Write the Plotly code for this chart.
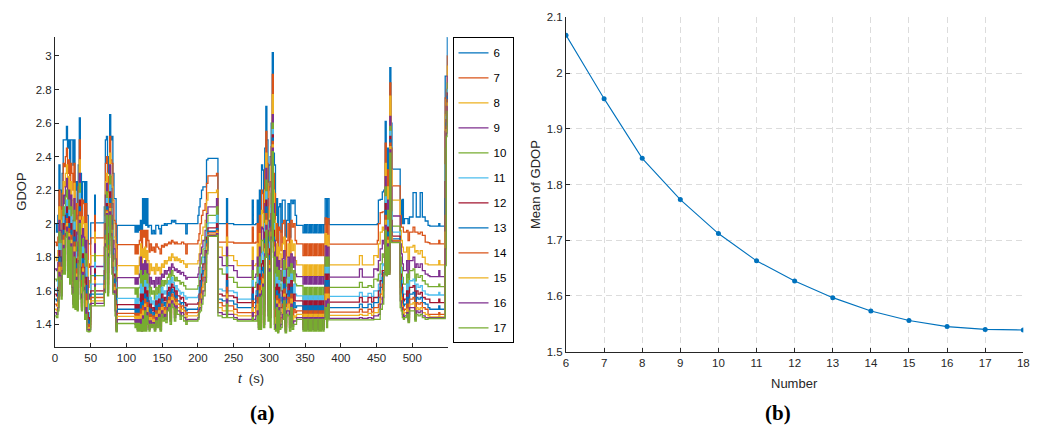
import plotly.graph_objects as go

W, H = 1043, 428

# ---------------- data: panel (a) GDOP time series (step values) ----------------
t_s = [
    0, 2, 4, 5.5, 7, 8.5, 10, 11.5, 13, 14.5,
    16, 17.5, 19, 20.5, 22, 23.5, 25, 26.5, 28, 29.5,
    31, 32.5, 34, 35.5, 37, 38.5, 40, 41.5, 43, 44.5,
    46.5, 48.5, 50, 55.5, 56.5, 69, 70.5, 72, 73.5, 75,
    76.5, 78, 79.5, 81, 82.5, 84, 85.5, 87, 112, 113.5,
    115, 116.5, 118, 119.5, 121, 122.5, 124, 125.5, 127, 128.5,
    130, 131.5, 133, 135, 137, 139, 141, 143, 145, 147,
    149, 151, 153, 155, 157, 159, 161, 163, 165, 167,
    169, 171, 173, 175, 177, 180, 183, 185, 200, 201.5,
    203, 205, 207, 210, 212, 214, 226, 228, 234, 240,
    241.5, 250, 255, 276, 277.5, 281, 283, 284.5, 286, 287.5,
    289, 290.5, 292, 293.5, 295, 296.5, 298, 299.5, 301, 302.5,
    304, 305.5, 307, 308.5, 310, 311.5, 313, 314.5, 316, 318,
    320, 322, 324, 326, 328, 330, 332, 334, 336, 338,
    347, 349, 350.5, 352, 354, 356, 357.5, 359, 361, 363,
    364.5, 366, 368, 370, 371.5, 373, 375, 376.5, 378, 380,
    381.5, 383.5, 426, 430, 438, 443, 446, 451, 452.5, 455,
    458, 460, 462, 463.5, 465, 466.5, 468.5, 470, 471.5, 483,
    484.5, 486, 487.5, 489, 492, 494, 496, 501, 503.5, 505.5,
    508, 511, 514, 518, 522, 524.5, 537, 538.5, 546, 547.5,
    549, 549.5,
]

gdop_6 = [
    2.00, 1.95, 2.05, 2.35, 2.20, 2.00, 2.30, 2.50, 2.50, 2.50,
    2.58, 2.45, 2.50, 2.30, 2.50, 2.50, 2.35, 2.50, 2.20, 2.25,
    2.00, 2.35, 2.63, 2.30, 2.00, 2.25, 2.25, 1.88, 2.25, 2.05,
    1.88, 1.88, 2.005, 2.17, 2.005, 2.10, 2.50, 2.52, 2.30, 2.40,
    2.65, 2.50, 2.52, 2.30, 2.15, 2.15, 1.85, 1.99, 1.95, 1.99,
    1.95, 1.99, 1.96, 2.02, 1.95, 2.15, 2.00, 2.15, 1.99, 2.15,
    1.98, 1.99, 1.99, 1.94, 1.96, 1.94, 1.99, 1.99, 1.97, 1.94,
    1.99, 1.99, 2.00, 1.99, 2.00, 2.00, 2.00, 2.02, 2.01, 2.02,
    2.00, 2.00, 2.00, 2.00, 2.00, 2.00, 1.94, 2.00, 2.05, 2.10,
    2.15, 2.20, 2.22, 2.22, 2.38, 2.39, 2.39, 2.00, 2.00, 2.15,
    2.00, 1.995, 1.995, 2.14, 1.995, 2.00, 2.14, 1.98, 2.20, 1.95,
    2.35, 2.32, 2.00, 2.45, 2.70, 2.50, 2.20, 2.35, 2.40, 2.60,
    3.02, 2.42, 2.35, 2.05, 2.15, 1.85, 2.10, 2.12, 1.95, 2.14,
    2.14, 1.92, 2.02, 2.12, 1.92, 2.14, 2.12, 2.14, 2.05, 1.99,
    1.945, 1.995, 1.945, 1.995, 1.945, 1.995, 1.945, 1.995, 1.945, 1.995,
    1.945, 1.995, 1.945, 1.995, 1.945, 1.995, 1.945, 1.995, 2.15, 2.00,
    2.15, 1.995, 1.995, 1.995, 1.995, 1.995, 1.995, 2.00, 2.14, 2.145,
    2.19, 2.20, 2.61, 2.20, 2.45, 2.20, 2.93, 2.60, 2.325, 2.14,
    2.00, 2.145, 2.00, 2.03, 2.03, 2.00, 2.04, 2.185, 2.185, 2.04,
    2.04, 2.185, 2.04, 2.016, 1.99, 1.985, 2.00, 1.985, 2.88, 2.88,
    3.11, 3.11,
]

gdop_7 = [
    1.89, 1.87, 1.92, 2.20, 2.10, 1.93, 2.18, 2.36, 2.34, 2.40,
    2.45, 2.30, 2.38, 2.15, 2.36, 2.30, 2.20, 2.36, 2.02, 2.12,
    1.88, 2.22, 2.50, 2.15, 1.88, 2.14, 2.12, 1.76, 2.12, 1.90,
    1.74, 1.76, 1.915, 2.05, 1.915, 2.00, 2.36, 2.40, 2.15, 2.28,
    2.52, 2.38, 2.36, 2.14, 2.02, 2.00, 1.72, 1.875, 1.82, 1.875,
    1.82, 1.875, 1.90, 1.96, 1.83, 1.96, 1.92, 1.96, 1.86, 1.96,
    1.90, 1.83, 1.88, 1.84, 1.86, 1.83, 1.88, 1.86, 1.85, 1.82,
    1.87, 1.86, 1.88, 1.87, 1.88, 1.89, 1.88, 1.90, 1.89, 1.88,
    1.89, 1.88, 1.88, 1.88, 1.89, 1.88, 1.82, 1.88, 1.90, 1.94,
    2.00, 2.05, 2.08, 2.12, 2.24, 2.285, 2.30, 1.89, 1.89, 2.00,
    1.89, 1.885, 1.885, 1.98, 1.885, 1.89, 2.00, 1.85, 2.05, 1.82,
    2.20, 2.18, 1.88, 2.32, 2.55, 2.36, 2.04, 2.22, 2.25, 2.46,
    2.89, 2.30, 2.18, 1.90, 2.00, 1.74, 1.98, 1.96, 1.84, 2.00,
    2.02, 1.80, 1.90, 2.00, 1.82, 2.02, 1.98, 2.00, 1.90, 1.88,
    1.81, 1.88, 1.81, 1.88, 1.81, 1.88, 1.81, 1.88, 1.81, 1.88,
    1.81, 1.88, 1.81, 1.88, 1.81, 1.88, 1.81, 1.88, 2.035, 1.90,
    2.03, 1.878, 1.878, 1.878, 1.878, 1.878, 1.878, 1.90, 2.00, 2.066,
    2.07, 2.07, 2.48, 2.05, 2.32, 2.06, 2.84, 2.45, 2.225, 2.05,
    1.98, 1.98, 1.95, 1.95, 1.96, 1.90, 1.95, 1.98, 1.95, 1.95,
    1.94, 1.95, 1.93, 1.89, 1.887, 1.88, 1.90, 1.88, 2.75, 2.80,
    3.00, 3.00,
]

gdop_8 = [
    1.80, 1.78, 1.84, 2.10, 2.02, 1.86, 2.08, 2.25, 2.22, 2.30,
    2.35, 2.18, 2.28, 2.02, 2.25, 2.14, 2.06, 2.24, 1.88, 2.02,
    1.78, 2.12, 2.38, 2.02, 1.78, 2.04, 2.00, 1.66, 2.00, 1.78,
    1.62, 1.66, 1.81, 1.95, 1.81, 1.92, 2.25, 2.30, 2.02, 2.18,
    2.42, 2.28, 2.22, 2.00, 1.92, 1.88, 1.60, 1.75, 1.70, 1.75,
    1.70, 1.75, 1.80, 1.88, 1.72, 1.85, 1.80, 1.86, 1.74, 1.84,
    1.78, 1.70, 1.76, 1.72, 1.74, 1.70, 1.76, 1.72, 1.74, 1.70,
    1.76, 1.74, 1.78, 1.76, 1.78, 1.80, 1.78, 1.82, 1.80, 1.78,
    1.80, 1.78, 1.79, 1.77, 1.78, 1.76, 1.74, 1.76, 1.78, 1.82,
    1.88, 1.93, 1.98, 2.02, 2.14, 2.185, 2.20, 1.86, 1.81, 1.92,
    1.81, 1.78, 1.75, 1.86, 1.75, 1.76, 1.88, 1.72, 1.94, 1.70,
    2.08, 2.06, 1.76, 2.20, 2.42, 2.24, 1.90, 2.10, 2.10, 2.34,
    2.77, 2.20, 2.02, 1.76, 1.88, 1.62, 1.86, 1.82, 1.74, 1.88,
    1.92, 1.68, 1.80, 1.88, 1.72, 1.90, 1.84, 1.88, 1.78, 1.755,
    1.69, 1.755, 1.69, 1.755, 1.69, 1.755, 1.69, 1.755, 1.69, 1.755,
    1.69, 1.755, 1.69, 1.755, 1.69, 1.755, 1.69, 1.755, 1.94, 1.80,
    1.93, 1.755, 1.81, 1.755, 1.755, 1.755, 1.81, 1.80, 1.88, 1.95,
    1.98, 1.96, 2.36, 1.92, 2.22, 1.94, 2.76, 2.32, 2.14, 1.96,
    1.90, 1.86, 1.83, 1.83, 1.86, 1.78, 1.86, 1.87, 1.83, 1.84,
    1.82, 1.84, 1.80, 1.76, 1.755, 1.755, 1.78, 1.755, 2.65, 2.74,
    2.94, 2.94,
]

gdop_9 = [
    1.73, 1.72, 1.77, 2.02, 1.96, 1.80, 2.00, 2.17, 2.12, 2.22,
    2.27, 2.08, 2.20, 1.93, 2.17, 2.02, 1.94, 2.15, 1.78, 1.95,
    1.71, 2.05, 2.30, 1.93, 1.70, 1.97, 1.92, 1.60, 1.90, 1.68,
    1.55, 1.58, 1.745, 1.88, 1.745, 1.86, 2.17, 2.24, 1.92, 2.10,
    2.35, 2.21, 2.12, 1.90, 1.85, 1.79, 1.52, 1.678, 1.64, 1.678,
    1.64, 1.678, 1.70, 1.80, 1.62, 1.76, 1.70, 1.78, 1.64, 1.76,
    1.70, 1.62, 1.68, 1.64, 1.66, 1.62, 1.68, 1.64, 1.68, 1.62,
    1.70, 1.68, 1.72, 1.70, 1.72, 1.74, 1.70, 1.76, 1.74, 1.72,
    1.73, 1.71, 1.72, 1.70, 1.71, 1.69, 1.67, 1.68, 1.70, 1.74,
    1.82, 1.86, 1.90, 1.96, 2.06, 2.10, 2.15, 1.80, 1.75, 1.86,
    1.75, 1.72, 1.68, 1.78, 1.68, 1.70, 1.80, 1.64, 1.86, 1.62,
    1.98, 1.97, 1.68, 2.12, 2.33, 2.15, 1.80, 2.02, 1.98, 2.25,
    2.65, 2.12, 1.90, 1.66, 1.80, 1.54, 1.78, 1.72, 1.66, 1.79,
    1.84, 1.60, 1.73, 1.80, 1.65, 1.82, 1.74, 1.80, 1.70, 1.685,
    1.64, 1.685, 1.64, 1.685, 1.64, 1.685, 1.64, 1.685, 1.64, 1.685,
    1.64, 1.685, 1.64, 1.685, 1.64, 1.685, 1.64, 1.685, 1.867, 1.74,
    1.86, 1.682, 1.73, 1.682, 1.682, 1.682, 1.73, 1.72, 1.78, 1.85,
    1.90, 1.88, 2.28, 1.84, 2.14, 1.86, 2.64, 2.22, 2.046, 1.88,
    1.82, 1.76, 1.72, 1.72, 1.78, 1.68, 1.78, 1.80, 1.74, 1.76,
    1.74, 1.76, 1.72, 1.70, 1.69, 1.685, 1.72, 1.685, 2.55, 2.70,
    2.88, 2.88,
]

gdop_10 = [
    1.67, 1.66, 1.72, 1.95, 1.90, 1.75, 1.94, 2.10, 2.04, 2.16,
    2.20, 2.00, 2.14, 1.86, 2.10, 1.93, 1.84, 2.08, 1.70, 1.89,
    1.65, 1.99, 2.24, 1.86, 1.64, 1.91, 1.85, 1.56, 1.82, 1.60,
    1.49, 1.52, 1.69, 1.82, 1.69, 1.81, 2.10, 2.19, 1.84, 2.04,
    2.29, 2.15, 2.04, 1.82, 1.79, 1.72, 1.46, 1.617, 1.58, 1.617,
    1.56, 1.617, 1.62, 1.72, 1.54, 1.69, 1.62, 1.72, 1.56, 1.70,
    1.64, 1.55, 1.62, 1.58, 1.60, 1.55, 1.62, 1.58, 1.63, 1.56,
    1.66, 1.63, 1.66, 1.64, 1.68, 1.70, 1.64, 1.72, 1.69, 1.66,
    1.68, 1.66, 1.66, 1.64, 1.65, 1.63, 1.61, 1.61, 1.63, 1.68,
    1.76, 1.80, 1.85, 1.92, 2.00, 2.05, 2.10, 1.73, 1.70, 1.80,
    1.68, 1.65, 1.62, 1.72, 1.62, 1.65, 1.74, 1.58, 1.80, 1.56,
    1.90, 1.90, 1.62, 2.06, 2.26, 2.08, 1.72, 1.95, 1.88, 2.18,
    2.60, 2.06, 1.80, 1.58, 1.74, 1.48, 1.72, 1.64, 1.60, 1.72,
    1.78, 1.54, 1.67, 1.74, 1.60, 1.76, 1.66, 1.72, 1.64, 1.63,
    1.55, 1.62, 1.55, 1.62, 1.55, 1.62, 1.55, 1.62, 1.55, 1.62,
    1.55, 1.62, 1.55, 1.62, 1.55, 1.62, 1.55, 1.62, 1.80, 1.68,
    1.80, 1.62, 1.65, 1.62, 1.63, 1.62, 1.67, 1.66, 1.70, 1.76,
    1.82, 1.80, 2.22, 1.78, 2.08, 1.80, 2.58, 2.14, 1.986, 1.80,
    1.74, 1.68, 1.64, 1.64, 1.70, 1.60, 1.72, 1.73, 1.66, 1.70,
    1.68, 1.69, 1.66, 1.64, 1.625, 1.625, 1.64, 1.625, 2.45, 2.67,
    2.84, 2.84,
]

gdop_11 = [
    1.61, 1.60, 1.66, 1.88, 1.84, 1.70, 1.88, 2.04, 1.96, 2.10,
    2.14, 1.92, 2.08, 1.80, 2.04, 1.84, 1.74, 2.01, 1.63, 1.83,
    1.60, 1.93, 2.18, 1.79, 1.59, 1.86, 1.78, 1.52, 1.74, 1.52,
    1.44, 1.47, 1.64, 1.77, 1.64, 1.76, 2.04, 2.15, 1.76, 1.98,
    2.23, 2.09, 1.96, 1.74, 1.74, 1.65, 1.41, 1.555, 1.52, 1.555,
    1.50, 1.555, 1.54, 1.64, 1.46, 1.62, 1.54, 1.66, 1.49, 1.64,
    1.58, 1.48, 1.56, 1.52, 1.54, 1.49, 1.57, 1.52, 1.58, 1.50,
    1.62, 1.58, 1.60, 1.58, 1.64, 1.66, 1.58, 1.68, 1.65, 1.60,
    1.63, 1.61, 1.60, 1.58, 1.59, 1.57, 1.55, 1.56, 1.57, 1.62,
    1.70, 1.74, 1.80, 1.88, 1.95, 2.005, 2.05, 1.61, 1.60, 1.74,
    1.60, 1.59, 1.55, 1.66, 1.55, 1.60, 1.68, 1.52, 1.74, 1.50,
    1.82, 1.83, 1.56, 2.00, 2.19, 2.01, 1.64, 1.89, 1.78, 2.11,
    2.56, 2.00, 1.70, 1.50, 1.68, 1.43, 1.66, 1.56, 1.54, 1.65,
    1.72, 1.48, 1.62, 1.68, 1.54, 1.70, 1.58, 1.64, 1.58, 1.57,
    1.50, 1.57, 1.50, 1.57, 1.50, 1.57, 1.50, 1.57, 1.50, 1.57,
    1.50, 1.57, 1.50, 1.57, 1.50, 1.57, 1.50, 1.57, 1.74, 1.62,
    1.74, 1.567, 1.59, 1.567, 1.585, 1.567, 1.60, 1.60, 1.64, 1.70,
    1.76, 1.75, 2.16, 1.74, 2.02, 1.76, 2.55, 2.07, 1.95, 1.74,
    1.68, 1.62, 1.58, 1.58, 1.64, 1.53, 1.66, 1.67, 1.58, 1.64,
    1.62, 1.63, 1.60, 1.58, 1.575, 1.575, 1.59, 1.575, 2.35, 2.64,
    2.80, 2.80,
]

gdop_12 = [
    1.58, 1.57, 1.62, 1.84, 1.80, 1.66, 1.84, 2.00, 1.90, 2.05,
    2.10, 1.86, 2.04, 1.76, 2.00, 1.78, 1.67, 1.96, 1.58, 1.79,
    1.56, 1.89, 2.14, 1.74, 1.56, 1.82, 1.74, 1.49, 1.68, 1.47,
    1.41, 1.44, 1.60, 1.73, 1.60, 1.72, 2.00, 2.12, 1.71, 1.94,
    2.19, 2.05, 1.90, 1.69, 1.70, 1.61, 1.39, 1.518, 1.49, 1.518,
    1.46, 1.518, 1.48, 1.58, 1.42, 1.58, 1.49, 1.62, 1.45, 1.60,
    1.54, 1.44, 1.52, 1.48, 1.50, 1.45, 1.54, 1.48, 1.55, 1.46,
    1.58, 1.54, 1.56, 1.54, 1.60, 1.62, 1.54, 1.64, 1.62, 1.56,
    1.60, 1.57, 1.57, 1.55, 1.56, 1.53, 1.51, 1.52, 1.53, 1.58,
    1.66, 1.70, 1.76, 1.84, 1.92, 1.975, 2.00, 1.58, 1.57, 1.70,
    1.57, 1.56, 1.53, 1.62, 1.53, 1.57, 1.64, 1.48, 1.70, 1.46,
    1.76, 1.78, 1.52, 1.95, 2.14, 1.96, 1.59, 1.85, 1.70, 2.06,
    2.53, 1.96, 1.62, 1.45, 1.64, 1.40, 1.62, 1.50, 1.50, 1.60,
    1.68, 1.44, 1.58, 1.64, 1.50, 1.66, 1.53, 1.58, 1.54, 1.54,
    1.46, 1.54, 1.46, 1.54, 1.46, 1.54, 1.46, 1.54, 1.46, 1.54,
    1.46, 1.54, 1.46, 1.54, 1.46, 1.54, 1.46, 1.54, 1.70, 1.58,
    1.70, 1.532, 1.56, 1.532, 1.56, 1.532, 1.56, 1.56, 1.60, 1.66,
    1.72, 1.72, 2.12, 1.72, 1.98, 1.73, 2.52, 2.02, 1.926, 1.70,
    1.64, 1.58, 1.54, 1.55, 1.60, 1.49, 1.62, 1.63, 1.53, 1.60,
    1.58, 1.59, 1.56, 1.55, 1.55, 1.53, 1.55, 1.53, 2.25, 2.62,
    2.78, 2.78,
]

gdop_13 = [
    1.55, 1.54, 1.59, 1.80, 1.77, 1.63, 1.80, 1.96, 1.85, 2.02,
    2.06, 1.82, 2.00, 1.73, 1.96, 1.73, 1.61, 1.92, 1.55, 1.76,
    1.54, 1.86, 2.10, 1.70, 1.53, 1.79, 1.70, 1.47, 1.63, 1.43,
    1.39, 1.42, 1.58, 1.70, 1.58, 1.69, 1.96, 2.10, 1.67, 1.90,
    2.15, 2.02, 1.85, 1.65, 1.67, 1.57, 1.38, 1.49, 1.46, 1.49,
    1.43, 1.49, 1.44, 1.53, 1.39, 1.54, 1.45, 1.58, 1.42, 1.56,
    1.50, 1.41, 1.49, 1.45, 1.47, 1.42, 1.51, 1.45, 1.52, 1.43,
    1.55, 1.51, 1.53, 1.50, 1.57, 1.59, 1.50, 1.61, 1.59, 1.52,
    1.57, 1.54, 1.54, 1.52, 1.53, 1.50, 1.48, 1.49, 1.50, 1.55,
    1.62, 1.66, 1.72, 1.80, 1.90, 1.955, 1.97, 1.55, 1.54, 1.66,
    1.54, 1.52, 1.50, 1.58, 1.50, 1.54, 1.60, 1.45, 1.66, 1.43,
    1.72, 1.74, 1.48, 1.91, 2.10, 1.92, 1.55, 1.81, 1.63, 2.02,
    2.51, 1.92, 1.55, 1.41, 1.60, 1.38, 1.58, 1.46, 1.47, 1.56,
    1.64, 1.41, 1.55, 1.60, 1.46, 1.62, 1.49, 1.53, 1.50, 1.51,
    1.43, 1.51, 1.43, 1.51, 1.43, 1.51, 1.43, 1.51, 1.43, 1.51,
    1.43, 1.51, 1.43, 1.51, 1.43, 1.51, 1.43, 1.51, 1.66, 1.54,
    1.66, 1.50, 1.52, 1.50, 1.52, 1.50, 1.53, 1.53, 1.56, 1.62,
    1.68, 1.71, 2.08, 1.71, 1.95, 1.72, 2.50, 1.98, 1.91, 1.66,
    1.60, 1.54, 1.51, 1.52, 1.56, 1.46, 1.58, 1.59, 1.49, 1.56,
    1.55, 1.56, 1.53, 1.52, 1.50, 1.49, 1.51, 1.49, 2.15, 2.60,
    2.76, 2.76,
]

gdop_14 = [
    1.52, 1.51, 1.56, 1.77, 1.74, 1.61, 1.77, 1.93, 1.81, 1.99,
    2.03, 1.78, 1.97, 1.70, 1.93, 1.69, 1.57, 1.89, 1.53, 1.73,
    1.52, 1.83, 2.07, 1.66, 1.51, 1.76, 1.67, 1.46, 1.58, 1.40,
    1.38, 1.40, 1.56, 1.68, 1.56, 1.66, 1.93, 2.08, 1.64, 1.87,
    2.12, 1.99, 1.81, 1.62, 1.64, 1.54, 1.37, 1.466, 1.44, 1.466,
    1.41, 1.466, 1.41, 1.49, 1.38, 1.51, 1.42, 1.55, 1.40, 1.53,
    1.47, 1.39, 1.46, 1.43, 1.45, 1.40, 1.48, 1.43, 1.50, 1.41,
    1.52, 1.48, 1.50, 1.47, 1.54, 1.56, 1.47, 1.58, 1.56, 1.49,
    1.55, 1.52, 1.52, 1.49, 1.51, 1.48, 1.46, 1.47, 1.48, 1.53,
    1.58, 1.62, 1.68, 1.76, 1.88, 1.945, 1.96, 1.53, 1.51, 1.62,
    1.51, 1.49, 1.47, 1.54, 1.47, 1.51, 1.56, 1.42, 1.63, 1.41,
    1.68, 1.70, 1.45, 1.88, 2.06, 1.88, 1.51, 1.78, 1.57, 1.98,
    2.49, 1.89, 1.49, 1.39, 1.57, 1.37, 1.55, 1.42, 1.44, 1.52,
    1.61, 1.39, 1.52, 1.56, 1.43, 1.58, 1.45, 1.49, 1.47, 1.48,
    1.40, 1.48, 1.40, 1.48, 1.40, 1.48, 1.40, 1.48, 1.40, 1.48,
    1.40, 1.48, 1.40, 1.48, 1.40, 1.48, 1.40, 1.48, 1.62, 1.50,
    1.62, 1.473, 1.49, 1.473, 1.49, 1.473, 1.50, 1.50, 1.52, 1.58,
    1.64, 1.70, 2.05, 1.70, 1.92, 1.71, 2.48, 1.95, 1.90, 1.62,
    1.56, 1.51, 1.48, 1.49, 1.52, 1.44, 1.55, 1.56, 1.46, 1.53,
    1.52, 1.53, 1.50, 1.49, 1.46, 1.46, 1.47, 1.46, 2.05, 2.58,
    2.74, 2.74,
]

gdop_15 = [
    1.49, 1.48, 1.53, 1.74, 1.71, 1.59, 1.74, 1.90, 1.77, 1.96,
    2.00, 1.75, 1.94, 1.68, 1.90, 1.65, 1.54, 1.86, 1.51, 1.70,
    1.50, 1.80, 2.04, 1.62, 1.50, 1.73, 1.64, 1.45, 1.54, 1.38,
    1.37, 1.38, 1.54, 1.66, 1.54, 1.63, 1.90, 2.07, 1.61, 1.84,
    2.09, 1.96, 1.77, 1.60, 1.62, 1.51, 1.365, 1.447, 1.42, 1.447,
    1.39, 1.447, 1.39, 1.46, 1.37, 1.48, 1.40, 1.52, 1.38, 1.50,
    1.44, 1.38, 1.44, 1.41, 1.43, 1.38, 1.46, 1.41, 1.48, 1.39,
    1.50, 1.46, 1.48, 1.45, 1.52, 1.54, 1.44, 1.56, 1.54, 1.46,
    1.53, 1.50, 1.50, 1.47, 1.49, 1.46, 1.44, 1.45, 1.46, 1.51,
    1.54, 1.58, 1.64, 1.72, 1.86, 1.935, 1.95, 1.50, 1.48, 1.58,
    1.48, 1.46, 1.45, 1.50, 1.45, 1.48, 1.52, 1.40, 1.60, 1.39,
    1.64, 1.67, 1.42, 1.85, 2.02, 1.85, 1.48, 1.75, 1.50, 1.95,
    2.47, 1.86, 1.44, 1.38, 1.54, 1.36, 1.52, 1.40, 1.42, 1.49,
    1.58, 1.37, 1.50, 1.52, 1.40, 1.55, 1.42, 1.45, 1.44, 1.46,
    1.38, 1.46, 1.38, 1.46, 1.38, 1.46, 1.38, 1.46, 1.38, 1.46,
    1.38, 1.46, 1.38, 1.46, 1.38, 1.46, 1.38, 1.46, 1.58, 1.46,
    1.58, 1.453, 1.46, 1.453, 1.465, 1.453, 1.47, 1.47, 1.49, 1.55,
    1.60, 1.70, 2.02, 1.70, 1.90, 1.70, 2.46, 1.92, 1.895, 1.58,
    1.52, 1.48, 1.46, 1.47, 1.49, 1.43, 1.52, 1.53, 1.44, 1.50,
    1.49, 1.50, 1.47, 1.46, 1.45, 1.445, 1.45, 1.445, 1.95, 2.56,
    2.72, 2.72,
]

gdop_16 = [
    1.47, 1.46, 1.50, 1.71, 1.69, 1.57, 1.72, 1.87, 1.74, 1.94,
    1.98, 1.72, 1.92, 1.66, 1.88, 1.62, 1.52, 1.83, 1.50, 1.68,
    1.49, 1.78, 2.02, 1.58, 1.49, 1.71, 1.62, 1.44, 1.50, 1.37,
    1.36, 1.37, 1.525, 1.64, 1.525, 1.61, 1.88, 2.06, 1.59, 1.82,
    2.07, 1.94, 1.74, 1.59, 1.60, 1.48, 1.36, 1.428, 1.40, 1.428,
    1.37, 1.428, 1.37, 1.43, 1.36, 1.45, 1.38, 1.50, 1.37, 1.47,
    1.42, 1.37, 1.42, 1.39, 1.41, 1.37, 1.44, 1.39, 1.46, 1.37,
    1.48, 1.44, 1.46, 1.43, 1.50, 1.52, 1.42, 1.54, 1.52, 1.44,
    1.51, 1.48, 1.48, 1.45, 1.47, 1.44, 1.42, 1.43, 1.44, 1.49,
    1.50, 1.55, 1.60, 1.68, 1.84, 1.93, 1.94, 1.47, 1.46, 1.55,
    1.46, 1.44, 1.43, 1.47, 1.43, 1.45, 1.48, 1.38, 1.58, 1.38,
    1.60, 1.64, 1.40, 1.82, 1.99, 1.82, 1.45, 1.73, 1.44, 1.92,
    2.45, 1.83, 1.40, 1.37, 1.52, 1.355, 1.50, 1.38, 1.40, 1.46,
    1.56, 1.36, 1.48, 1.48, 1.38, 1.52, 1.39, 1.42, 1.42, 1.44,
    1.37, 1.44, 1.37, 1.44, 1.37, 1.44, 1.37, 1.44, 1.37, 1.44,
    1.37, 1.44, 1.37, 1.44, 1.37, 1.44, 1.37, 1.44, 1.54, 1.42,
    1.55, 1.436, 1.44, 1.436, 1.44, 1.436, 1.45, 1.45, 1.46, 1.52,
    1.56, 1.70, 1.99, 1.69, 1.88, 1.70, 2.44, 1.90, 1.89, 1.54,
    1.50, 1.46, 1.44, 1.45, 1.47, 1.42, 1.50, 1.50, 1.43, 1.48,
    1.47, 1.48, 1.45, 1.44, 1.44, 1.44, 1.44, 1.44, 1.85, 2.54,
    2.70, 2.70,
]

gdop_17 = [
    1.45, 1.44, 1.48, 1.68, 1.66, 1.55, 1.70, 1.85, 1.70, 1.92,
    1.95, 1.68, 1.90, 1.64, 1.86, 1.58, 1.50, 1.80, 1.49, 1.66,
    1.48, 1.76, 2.00, 1.55, 1.48, 1.69, 1.60, 1.43, 1.46, 1.36,
    1.355, 1.36, 1.51, 1.62, 1.51, 1.59, 1.86, 2.05, 1.57, 1.80,
    2.05, 1.92, 1.70, 1.58, 1.58, 1.45, 1.355, 1.405, 1.38, 1.405,
    1.36, 1.405, 1.36, 1.40, 1.36, 1.43, 1.36, 1.48, 1.36, 1.45,
    1.40, 1.36, 1.40, 1.38, 1.40, 1.36, 1.42, 1.38, 1.44, 1.36,
    1.46, 1.42, 1.44, 1.41, 1.48, 1.50, 1.40, 1.52, 1.50, 1.42,
    1.49, 1.46, 1.46, 1.43, 1.45, 1.42, 1.40, 1.42, 1.43, 1.47,
    1.48, 1.52, 1.57, 1.65, 1.82, 1.925, 1.93, 1.45, 1.44, 1.52,
    1.44, 1.43, 1.42, 1.44, 1.42, 1.42, 1.45, 1.37, 1.56, 1.37,
    1.57, 1.62, 1.38, 1.80, 1.96, 1.80, 1.42, 1.71, 1.38, 1.90,
    2.43, 1.80, 1.37, 1.36, 1.50, 1.35, 1.48, 1.37, 1.38, 1.43,
    1.54, 1.35, 1.46, 1.45, 1.36, 1.50, 1.37, 1.40, 1.40, 1.43,
    1.36, 1.43, 1.36, 1.43, 1.36, 1.43, 1.36, 1.43, 1.36, 1.43,
    1.36, 1.43, 1.36, 1.43, 1.36, 1.43, 1.36, 1.43, 1.50, 1.38,
    1.52, 1.427, 1.427, 1.427, 1.427, 1.427, 1.43, 1.43, 1.43, 1.49,
    1.52, 1.70, 1.96, 1.69, 1.86, 1.70, 2.42, 1.89, 1.887, 1.50,
    1.48, 1.44, 1.43, 1.44, 1.46, 1.41, 1.48, 1.48, 1.42, 1.46,
    1.45, 1.46, 1.44, 1.43, 1.435, 1.435, 1.435, 1.435, 1.75, 2.52,
    2.67, 2.67,
]

series_names = ["6", "7", "8", "9", "10", "11", "12", "13", "14", "15", "16", "17"]
series_values = [gdop_6, gdop_7, gdop_8, gdop_9, gdop_10, gdop_11,
                 gdop_12, gdop_13, gdop_14, gdop_15, gdop_16, gdop_17]
series_colors = ["#0072BD", "#D95319", "#EDB120", "#7E2F8E", "#77AC30", "#4DBEEE",
                 "#A2142F", "#0072BD", "#D95319", "#EDB120", "#7E2F8E", "#77AC30"]

# ---------------- data: panel (b) mean GDOP vs number of satellites ----------------
numbers = [6, 7, 8, 9, 10, 11, 12, 13, 14, 15, 16, 17, 18]
mean_gdop = [2.068, 1.954, 1.847, 1.773, 1.712, 1.663, 1.627, 1.597, 1.573, 1.556, 1.545, 1.540, 1.539]

left_xticks = [0, 50, 100, 150, 200, 250, 300, 350, 400, 450, 500]
left_yticks = [1.4, 1.6, 1.8, 2.0, 2.2, 2.4, 2.6, 2.8, 3.0]
right_yticks = [1.5, 1.6, 1.7, 1.8, 1.9, 2.0, 2.1]

for name, vals in zip(series_names, series_values):
    if len(vals) != len(t_s):
        raise ValueError(f"series {name}: {len(vals)} values vs {len(t_s)} times")

# ---------------- figure ----------------
FONT = "Liberation Sans, Arial, sans-serif"
AX = "#262626"

def px_x(p):
    return p / W

def px_y(p):
    return 1 - p / H

fig = go.Figure()

for name, vals, col in zip(series_names, series_values, series_colors):
    fig.add_trace(go.Scatter(
        x=t_s, y=vals, mode="lines", name=name, legendgroup=name,
        line=dict(color=col, width=1.3, shape="hv"),
        xaxis="x", yaxis="y",
    ))

fig.add_trace(go.Scatter(
    x=numbers, y=mean_gdop, mode="lines+markers", showlegend=False,
    line=dict(color="#0072BD", width=1.1),
    marker=dict(color="#0072BD", size=5),
    xaxis="x2", yaxis="y2",
))

common_axis = dict(
    showline=True, linecolor=AX, linewidth=1, mirror=False,
    ticks="inside", ticklen=4, tickcolor=AX, tickwidth=1,
    tickfont=dict(family=FONT, size=11.5, color=AX),
    zeroline=False, automargin=False,
)

fig.update_layout(
    template="none",
    width=W, height=H,
    autosize=False,
    margin=dict(l=0, r=0, t=0, b=0, pad=0, autoexpand=False),
    paper_bgcolor="white", plot_bgcolor="white",
    font=dict(family=FONT, color=AX),
    xaxis=dict(domain=[px_x(55), px_x(447.7)], range=[0, 549.5],
               tickvals=left_xticks, showgrid=False, anchor="y", **common_axis),
    yaxis=dict(domain=[px_y(347), px_y(37)], range=[1.265, 3.113],
               tickvals=left_yticks, showgrid=False, anchor="x", **common_axis),
    xaxis2=dict(domain=[px_x(566), px_x(1023.3)], range=[6, 18],
                tickvals=numbers, showgrid=True, gridcolor="#dcdcdc", griddash="6px,4px",
                gridwidth=1, anchor="y2", **common_axis),
    yaxis2=dict(domain=[px_y(351.7), px_y(17.3)], range=[1.5, 2.1],
                tickvals=right_yticks, showgrid=True, gridcolor="#dcdcdc", griddash="6px,4px",
                gridwidth=1, anchor="x2", **common_axis),
    legend=dict(x=px_x(452.5), y=px_y(37.3), xanchor="left", yanchor="top",
                bordercolor="#000000", borderwidth=1, bgcolor="white",
                font=dict(family=FONT, size=11.5, color="#000000"),
                tracegroupgap=6, itemwidth=30),
    showlegend=True,
    hovermode=False,
)

annotations = [
    dict(text="GDOP", x=px_x(20.7), y=px_y(192), textangle=-90, font=dict(size=13)),
    dict(text="<i>t</i>&nbsp;&nbsp;(s)", x=px_x(251), y=px_y(378), font=dict(size=13)),
    dict(text="Mean of GDOP", x=px_x(536), y=px_y(185), textangle=-90, font=dict(size=13)),
    dict(text="Number", x=px_x(794), y=px_y(383), font=dict(size=13)),
    dict(text="<b>(a)</b>", x=px_x(262), y=px_y(413),
         font=dict(size=21, family="Liberation Serif, DejaVu Serif, serif", color="#000000")),
    dict(text="<b>(b)</b>", x=px_x(778), y=px_y(413),
         font=dict(size=21, family="Liberation Serif, DejaVu Serif, serif", color="#000000")),
]
for a in annotations:
    a.update(xref="paper", yref="paper", showarrow=False, xanchor="center", yanchor="middle")
    a.setdefault("font", {})
    a["font"].setdefault("family", FONT)
    a["font"].setdefault("color", AX)
fig.update_layout(annotations=annotations)

# remove the default page margin so the figure sits at the window's top-left corner
page_js = ("document.body.style.margin='0';document.body.style.padding='0';"
           "document.documentElement.style.margin='0';document.documentElement.style.overflow='hidden';")

fig.write_html("out.html", post_script=page_js,
               config={"displayModeBar": False, "staticPlot": False})
